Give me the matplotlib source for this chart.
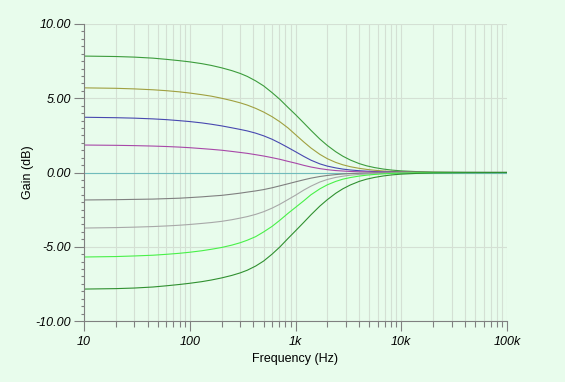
import matplotlib
matplotlib.use("Agg")
import matplotlib.pyplot as plt
from matplotlib.ticker import FixedLocator, MultipleLocator, LogLocator, NullFormatter

freqs = [10, 20, 30, 45, 60, 80, 100, 130, 160, 200, 250, 300, 350, 420, 500, 600, 710, 850,
         1000, 1200, 1400, 1700, 2000, 2400, 2800, 3300, 4000, 4700, 5600, 6800, 8200,
         10000, 14000, 20000, 40000, 100000]

gain_p8 = [7.84, 7.81, 7.77, 7.70, 7.62, 7.53, 7.45, 7.33, 7.21, 7.05, 6.86, 6.67, 6.47, 6.17, 5.83, 5.38, 4.93, 4.38,
           3.90, 3.33, 2.84, 2.25, 1.82, 1.40, 1.10, 0.84, 0.60, 0.45, 0.33, 0.23, 0.16,
           0.11, 0.06, 0.03, 0.01, 0.0]
gain_p6 = [5.70, 5.67, 5.63, 5.57, 5.51, 5.43, 5.35, 5.24, 5.14, 5.00, 4.84, 4.69, 4.54, 4.32, 4.07, 3.76, 3.42, 3.00,
           2.55, 2.05, 1.65, 1.22, 0.93, 0.68, 0.52, 0.39, 0.28, 0.21, 0.15, 0.10, 0.07,
           0.05, 0.03, 0.01, 0.0, 0.0]
gain_p4 = [3.72, 3.69, 3.66, 3.61, 3.56, 3.49, 3.43, 3.34, 3.25, 3.14, 3.01, 2.90, 2.80, 2.65, 2.47, 2.24, 1.98, 1.68,
           1.40, 1.08, 0.83, 0.58, 0.43, 0.31, 0.23, 0.17, 0.12, 0.09, 0.06, 0.04, 0.03,
           0.02, 0.01, 0.0, 0.0, 0.0]
gain_p2 = [1.85, 1.83, 1.81, 1.78, 1.75, 1.71, 1.67, 1.61, 1.56, 1.50, 1.42, 1.35, 1.29, 1.20, 1.11, 1.00, 0.89, 0.75,
           0.63, 0.48, 0.37, 0.26, 0.19, 0.13, 0.10, 0.07, 0.05, 0.04, 0.03, 0.02, 0.01,
           0.01, 0.0, 0.0, 0.0, 0.0]
gain_0 = [0.0] * 36
gain_m2 = [-1.85, -1.83, -1.81, -1.79, -1.76, -1.73, -1.69, -1.64, -1.59, -1.54, -1.46, -1.39, -1.32, -1.24, -1.15, -1.03, -0.90, -0.76,
           -0.63, -0.49, -0.38, -0.27, -0.20, -0.14, -0.10, -0.07, -0.05, -0.04, -0.03, -0.02, -0.01,
           -0.01, 0.0, 0.0, 0.0, 0.0]
gain_m4 = [-3.74, -3.71, -3.68, -3.64, -3.60, -3.55, -3.50, -3.43, -3.37, -3.29, -3.18, -3.07, -2.97, -2.82, -2.64, -2.40, -2.14, -1.82,
           -1.53, -1.18, -0.92, -0.64, -0.47, -0.33, -0.25, -0.18, -0.13, -0.10, -0.07, -0.05, -0.03,
           -0.02, -0.01, 0.0, 0.0, 0.0]
gain_m6 = [-5.69, -5.66, -5.62, -5.57, -5.51, -5.44, -5.37, -5.27, -5.17, -5.05, -4.89, -4.73, -4.56, -4.32, -4.00, -3.63, -3.22, -2.75,
           -2.35, -1.90, -1.50, -1.10, -0.83, -0.60, -0.45, -0.34, -0.24, -0.18, -0.13, -0.09, -0.06,
           -0.04, -0.02, -0.01, 0.0, 0.0]
gain_m8 = [-7.85, -7.82, -7.78, -7.71, -7.63, -7.54, -7.46, -7.35, -7.24, -7.10, -6.93, -6.76, -6.58, -6.30, -5.96, -5.50, -5.02, -4.44,
           -3.93, -3.35, -2.85, -2.26, -1.83, -1.40, -1.10, -0.84, -0.60, -0.45, -0.33, -0.23, -0.16,
           -0.11, -0.06, -0.03, -0.01, 0.0]

series = [gain_p8, gain_p6, gain_p4, gain_p2, gain_0, gain_m2, gain_m4, gain_m6, gain_m8]
colors = ["#3c9c3c", "#a0a040", "#4848b0", "#a848a8", "#70bcbc",
          "#808080", "#a8a8a8", "#48f048", "#309030"]

x_ticks = [10, 100, 1000, 10000, 100000]
x_labels = ["10", "100", "1k", "10k", "100k"]
y_ticks = [-10, -5, 0, 5, 10]
y_labels = ["-10.00", "-5.00", "0.00", "5.00", "10.00"]

bg = "#e8fcec"
grid_c = "#d4e0d4"
axis_c = "#808080"

fig = plt.figure(figsize=(5.65, 3.82), dpi=100, facecolor=bg)
ax = fig.add_axes([84/565, 1 - 321/382, (507-84)/565, (321-24)/382], facecolor=bg)

for vals, c in zip(series, colors):
    ax.plot(freqs, vals, color=c, lw=0.8)

ax.set_xscale("log")
ax.set_xlim(10, 100000)
ax.set_ylim(-10, 10)

ax.xaxis.set_major_locator(FixedLocator(x_ticks))
ax.xaxis.set_minor_locator(LogLocator(base=10, subs=range(2, 10), numticks=20))
ax.xaxis.set_minor_formatter(NullFormatter())
ax.set_xticks(x_ticks)
ax.set_xticklabels(x_labels)
ax.set_yticks(y_ticks)
ax.set_yticklabels(y_labels)
ax.yaxis.set_minor_locator(MultipleLocator(0.5))

for lab in ax.get_xticklabels() + ax.get_yticklabels():
    lab.set_fontstyle("italic")
    lab.set_fontfamily("Liberation Sans")
    lab.set_fontsize(9)
    lab.set_color("black")

ax.grid(True, which="major", color=grid_c, lw=0.8)
ax.grid(True, which="minor", axis="x", color=grid_c, lw=0.8)
ax.set_axisbelow(True)

for s in ["top", "right"]:
    ax.spines[s].set_visible(False)
for s in ["left", "bottom"]:
    ax.spines[s].set_color(axis_c)
    ax.spines[s].set_linewidth(0.8)

ax.tick_params(axis="both", which="major", length=7.5, width=0.8, color=axis_c, pad=2)
ax.tick_params(axis="x", which="minor", length=4, width=0.8, color=axis_c)
ax.tick_params(axis="y", which="minor", length=2.2, width=0.8, color=axis_c)
ax.tick_params(axis="x", which="major", pad=3)

ax.set_xlabel("Frequency (Hz)", fontfamily="Liberation Sans", fontsize=9, labelpad=4)
ax.set_ylabel("Gain (dB)", fontfamily="Liberation Sans", fontsize=9, labelpad=1)

fig.savefig("out.png", dpi=100, facecolor=bg)
